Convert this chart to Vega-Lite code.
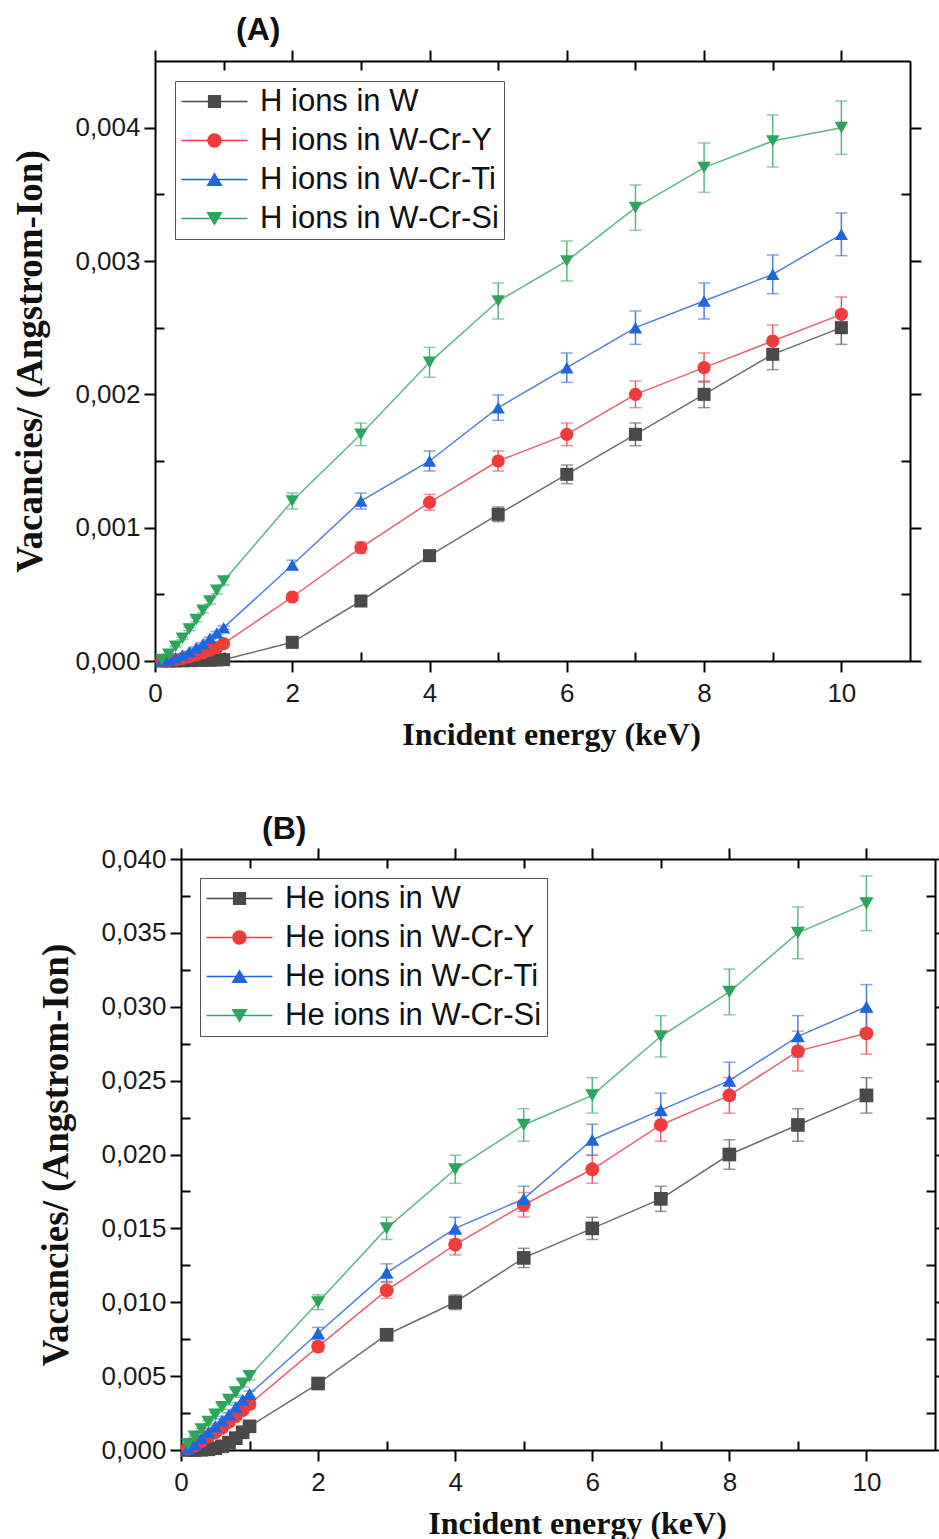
{
"$schema": "https://vega.github.io/schema/vega-lite/v6.json",
"padding": {"left": 10, "top": 14, "right": 0, "bottom": 0},
"spacing": 63,
"datasets": {
"A": [
{"e":0.1,"s":"H ions in W","v":0,"d":0},
{"e":0.2,"s":"H ions in W","v":0,"d":0},
{"e":0.3,"s":"H ions in W","v":0.000001,"d":0},
{"e":0.4,"s":"H ions in W","v":0.000002,"d":0.0000001},
{"e":0.5,"s":"H ions in W","v":0.000003,"d":0.00000015},
{"e":0.6,"s":"H ions in W","v":0.000004,"d":0.0000002},
{"e":0.7,"s":"H ions in W","v":0.000005,"d":0.00000025},
{"e":0.8,"s":"H ions in W","v":0.000006,"d":0.0000003},
{"e":0.9,"s":"H ions in W","v":0.000008,"d":0.0000004},
{"e":1,"s":"H ions in W","v":0.00001,"d":0.0000005},
{"e":2,"s":"H ions in W","v":0.00014,"d":0.000007},
{"e":3,"s":"H ions in W","v":0.00045,"d":0.0000225},
{"e":4,"s":"H ions in W","v":0.00079,"d":0.0000395},
{"e":5,"s":"H ions in W","v":0.0011,"d":0.000055},
{"e":6,"s":"H ions in W","v":0.0014,"d":0.00007},
{"e":7,"s":"H ions in W","v":0.0017,"d":0.000085},
{"e":8,"s":"H ions in W","v":0.002,"d":0.0001},
{"e":9,"s":"H ions in W","v":0.0023,"d":0.000115},
{"e":10,"s":"H ions in W","v":0.0025,"d":0.000125},
{"e":0.1,"s":"H ions in W-Cr-Y","v":0.000001,"d":0.00000005},
{"e":0.2,"s":"H ions in W-Cr-Y","v":0.000004,"d":0.0000002},
{"e":0.3,"s":"H ions in W-Cr-Y","v":0.00001,"d":0.0000005},
{"e":0.4,"s":"H ions in W-Cr-Y","v":0.00002,"d":0.000001},
{"e":0.5,"s":"H ions in W-Cr-Y","v":0.000032,"d":0.0000016},
{"e":0.6,"s":"H ions in W-Cr-Y","v":0.000046,"d":0.0000023},
{"e":0.7,"s":"H ions in W-Cr-Y","v":0.000062,"d":0.0000031},
{"e":0.8,"s":"H ions in W-Cr-Y","v":0.00008,"d":0.000004},
{"e":0.9,"s":"H ions in W-Cr-Y","v":0.0001,"d":0.000005},
{"e":1,"s":"H ions in W-Cr-Y","v":0.00013,"d":0.0000065},
{"e":2,"s":"H ions in W-Cr-Y","v":0.00048,"d":0.000024},
{"e":3,"s":"H ions in W-Cr-Y","v":0.00085,"d":0.0000425},
{"e":4,"s":"H ions in W-Cr-Y","v":0.00119,"d":0.0000595},
{"e":5,"s":"H ions in W-Cr-Y","v":0.0015,"d":0.000075},
{"e":6,"s":"H ions in W-Cr-Y","v":0.0017,"d":0.000085},
{"e":7,"s":"H ions in W-Cr-Y","v":0.002,"d":0.0001},
{"e":8,"s":"H ions in W-Cr-Y","v":0.0022,"d":0.00011},
{"e":9,"s":"H ions in W-Cr-Y","v":0.0024,"d":0.00012},
{"e":10,"s":"H ions in W-Cr-Y","v":0.0026,"d":0.00013},
{"e":0.1,"s":"H ions in W-Cr-Ti","v":0.000003,"d":0.00000015},
{"e":0.2,"s":"H ions in W-Cr-Ti","v":0.00001,"d":0.0000005},
{"e":0.3,"s":"H ions in W-Cr-Ti","v":0.000025,"d":0.0000013},
{"e":0.4,"s":"H ions in W-Cr-Ti","v":0.000045,"d":0.0000023},
{"e":0.5,"s":"H ions in W-Cr-Ti","v":0.00007,"d":0.0000035},
{"e":0.6,"s":"H ions in W-Cr-Ti","v":0.0001,"d":0.000005},
{"e":0.7,"s":"H ions in W-Cr-Ti","v":0.00013,"d":0.0000065},
{"e":0.8,"s":"H ions in W-Cr-Ti","v":0.00017,"d":0.0000085},
{"e":0.9,"s":"H ions in W-Cr-Ti","v":0.00021,"d":0.0000105},
{"e":1,"s":"H ions in W-Cr-Ti","v":0.00025,"d":0.0000125},
{"e":2,"s":"H ions in W-Cr-Ti","v":0.00072,"d":0.000036},
{"e":3,"s":"H ions in W-Cr-Ti","v":0.0012,"d":0.00006},
{"e":4,"s":"H ions in W-Cr-Ti","v":0.0015,"d":0.000075},
{"e":5,"s":"H ions in W-Cr-Ti","v":0.0019,"d":0.000095},
{"e":6,"s":"H ions in W-Cr-Ti","v":0.0022,"d":0.00011},
{"e":7,"s":"H ions in W-Cr-Ti","v":0.0025,"d":0.000125},
{"e":8,"s":"H ions in W-Cr-Ti","v":0.0027,"d":0.000135},
{"e":9,"s":"H ions in W-Cr-Ti","v":0.0029,"d":0.000145},
{"e":10,"s":"H ions in W-Cr-Ti","v":0.0032,"d":0.00016},
{"e":0.1,"s":"H ions in W-Cr-Si","v":0.00001,"d":0.0000005},
{"e":0.2,"s":"H ions in W-Cr-Si","v":0.00005,"d":0.0000025},
{"e":0.3,"s":"H ions in W-Cr-Si","v":0.00011,"d":0.0000055},
{"e":0.4,"s":"H ions in W-Cr-Si","v":0.00017,"d":0.0000085},
{"e":0.5,"s":"H ions in W-Cr-Si","v":0.00024,"d":0.000012},
{"e":0.6,"s":"H ions in W-Cr-Si","v":0.00031,"d":0.0000155},
{"e":0.7,"s":"H ions in W-Cr-Si","v":0.00038,"d":0.000019},
{"e":0.8,"s":"H ions in W-Cr-Si","v":0.00045,"d":0.0000225},
{"e":0.9,"s":"H ions in W-Cr-Si","v":0.00053,"d":0.0000265},
{"e":1,"s":"H ions in W-Cr-Si","v":0.0006,"d":0.00003},
{"e":2,"s":"H ions in W-Cr-Si","v":0.0012,"d":0.00006},
{"e":3,"s":"H ions in W-Cr-Si","v":0.0017,"d":0.000085},
{"e":4,"s":"H ions in W-Cr-Si","v":0.00224,"d":0.000112},
{"e":5,"s":"H ions in W-Cr-Si","v":0.0027,"d":0.000135},
{"e":6,"s":"H ions in W-Cr-Si","v":0.003,"d":0.00015},
{"e":7,"s":"H ions in W-Cr-Si","v":0.0034,"d":0.00017},
{"e":8,"s":"H ions in W-Cr-Si","v":0.0037,"d":0.000185},
{"e":9,"s":"H ions in W-Cr-Si","v":0.0039,"d":0.000195},
{"e":10,"s":"H ions in W-Cr-Si","v":0.004,"d":0.0002}
],
"B": [
{"e":0.1,"s":"He ions in W","v":0,"d":0},
{"e":0.2,"s":"He ions in W","v":0,"d":0},
{"e":0.3,"s":"He ions in W","v":0.00002,"d":0.000001},
{"e":0.4,"s":"He ions in W","v":0.00005,"d":0.0000025},
{"e":0.5,"s":"He ions in W","v":0.00012,"d":0.000006},
{"e":0.6,"s":"He ions in W","v":0.00025,"d":0.0000125},
{"e":0.7,"s":"He ions in W","v":0.0005,"d":0.000025},
{"e":0.8,"s":"He ions in W","v":0.0008,"d":0.00004},
{"e":0.9,"s":"He ions in W","v":0.0012,"d":0.00006},
{"e":1,"s":"He ions in W","v":0.0016,"d":0.00008},
{"e":2,"s":"He ions in W","v":0.0045,"d":0.000225},
{"e":3,"s":"He ions in W","v":0.0078,"d":0.00039},
{"e":4,"s":"He ions in W","v":0.01,"d":0.0005},
{"e":5,"s":"He ions in W","v":0.013,"d":0.00065},
{"e":6,"s":"He ions in W","v":0.015,"d":0.00075},
{"e":7,"s":"He ions in W","v":0.017,"d":0.00085},
{"e":8,"s":"He ions in W","v":0.02,"d":0.001},
{"e":9,"s":"He ions in W","v":0.022,"d":0.0011},
{"e":10,"s":"He ions in W","v":0.024,"d":0.0012},
{"e":0.1,"s":"He ions in W-Cr-Y","v":0.0001,"d":0.000005},
{"e":0.2,"s":"He ions in W-Cr-Y","v":0.0003,"d":0.000015},
{"e":0.3,"s":"He ions in W-Cr-Y","v":0.0006,"d":0.00003},
{"e":0.4,"s":"He ions in W-Cr-Y","v":0.0009,"d":0.000045},
{"e":0.5,"s":"He ions in W-Cr-Y","v":0.0012,"d":0.00006},
{"e":0.6,"s":"He ions in W-Cr-Y","v":0.0015,"d":0.000075},
{"e":0.7,"s":"He ions in W-Cr-Y","v":0.0019,"d":0.000095},
{"e":0.8,"s":"He ions in W-Cr-Y","v":0.0023,"d":0.000115},
{"e":0.9,"s":"He ions in W-Cr-Y","v":0.0027,"d":0.000135},
{"e":1,"s":"He ions in W-Cr-Y","v":0.0031,"d":0.000155},
{"e":2,"s":"He ions in W-Cr-Y","v":0.007,"d":0.00035},
{"e":3,"s":"He ions in W-Cr-Y","v":0.0108,"d":0.00054},
{"e":4,"s":"He ions in W-Cr-Y","v":0.0139,"d":0.000695},
{"e":5,"s":"He ions in W-Cr-Y","v":0.0166,"d":0.00083},
{"e":6,"s":"He ions in W-Cr-Y","v":0.019,"d":0.00095},
{"e":7,"s":"He ions in W-Cr-Y","v":0.022,"d":0.0011},
{"e":8,"s":"He ions in W-Cr-Y","v":0.024,"d":0.0012},
{"e":9,"s":"He ions in W-Cr-Y","v":0.027,"d":0.00135},
{"e":10,"s":"He ions in W-Cr-Y","v":0.0282,"d":0.00141},
{"e":0.1,"s":"He ions in W-Cr-Ti","v":0.0001,"d":0.000005},
{"e":0.2,"s":"He ions in W-Cr-Ti","v":0.0004,"d":0.00002},
{"e":0.3,"s":"He ions in W-Cr-Ti","v":0.0008,"d":0.00004},
{"e":0.4,"s":"He ions in W-Cr-Ti","v":0.0012,"d":0.00006},
{"e":0.5,"s":"He ions in W-Cr-Ti","v":0.0016,"d":0.00008},
{"e":0.6,"s":"He ions in W-Cr-Ti","v":0.002,"d":0.0001},
{"e":0.7,"s":"He ions in W-Cr-Ti","v":0.0024,"d":0.00012},
{"e":0.8,"s":"He ions in W-Cr-Ti","v":0.0029,"d":0.000145},
{"e":0.9,"s":"He ions in W-Cr-Ti","v":0.0034,"d":0.00017},
{"e":1,"s":"He ions in W-Cr-Ti","v":0.0038,"d":0.00019},
{"e":2,"s":"He ions in W-Cr-Ti","v":0.0079,"d":0.000395},
{"e":3,"s":"He ions in W-Cr-Ti","v":0.012,"d":0.0006},
{"e":4,"s":"He ions in W-Cr-Ti","v":0.015,"d":0.00075},
{"e":5,"s":"He ions in W-Cr-Ti","v":0.017,"d":0.00085},
{"e":6,"s":"He ions in W-Cr-Ti","v":0.021,"d":0.00105},
{"e":7,"s":"He ions in W-Cr-Ti","v":0.023,"d":0.00115},
{"e":8,"s":"He ions in W-Cr-Ti","v":0.025,"d":0.00125},
{"e":9,"s":"He ions in W-Cr-Ti","v":0.028,"d":0.0014},
{"e":10,"s":"He ions in W-Cr-Ti","v":0.03,"d":0.0015},
{"e":0.1,"s":"He ions in W-Cr-Si","v":0.0004,"d":0.00002},
{"e":0.2,"s":"He ions in W-Cr-Si","v":0.0009,"d":0.000045},
{"e":0.3,"s":"He ions in W-Cr-Si","v":0.0014,"d":0.00007},
{"e":0.4,"s":"He ions in W-Cr-Si","v":0.0019,"d":0.000095},
{"e":0.5,"s":"He ions in W-Cr-Si","v":0.0024,"d":0.00012},
{"e":0.6,"s":"He ions in W-Cr-Si","v":0.0029,"d":0.000145},
{"e":0.7,"s":"He ions in W-Cr-Si","v":0.0034,"d":0.00017},
{"e":0.8,"s":"He ions in W-Cr-Si","v":0.0039,"d":0.000195},
{"e":0.9,"s":"He ions in W-Cr-Si","v":0.0045,"d":0.000225},
{"e":1,"s":"He ions in W-Cr-Si","v":0.005,"d":0.00025},
{"e":2,"s":"He ions in W-Cr-Si","v":0.01,"d":0.0005},
{"e":3,"s":"He ions in W-Cr-Si","v":0.015,"d":0.00075},
{"e":4,"s":"He ions in W-Cr-Si","v":0.019,"d":0.00095},
{"e":5,"s":"He ions in W-Cr-Si","v":0.022,"d":0.0011},
{"e":6,"s":"He ions in W-Cr-Si","v":0.024,"d":0.0012},
{"e":7,"s":"He ions in W-Cr-Si","v":0.028,"d":0.0014},
{"e":8,"s":"He ions in W-Cr-Si","v":0.031,"d":0.00155},
{"e":9,"s":"He ions in W-Cr-Si","v":0.035,"d":0.00175},
{"e":10,"s":"He ions in W-Cr-Si","v":0.037,"d":0.00185}
]
},
"vconcat": [
{
"spacing": 0,
"hconcat": [
{"width": 1, "height": 1, "data": {"values": []}, "mark": "point"},
{
"width": 755, "height": 600,
"title": {"text": "(A)", "anchor": "start", "frame": "group", "dx": 81, "offset": 2, "font": "Liberation Sans", "fontSize": 32, "fontWeight": "bold", "color": "#111111"},
"data": {"name": "A"},
"layer": [
{"mark": {"type": "line", "strokeWidth": 1.5},
 "encoding": {
  "x": {"field": "e", "type": "quantitative", "scale": {"domain": [0, 11], "nice": false, "zero": false}, "axis": {"orient": "bottom", "values": [0,2,4,6,8,10], "tickSize": 11, "labelPadding": 8, "title": "Incident energy (keV)", "titleFontSize": 32, "titlePadding": 13, "titleX": 396}},
  "y": {"field": "v", "type": "quantitative", "scale": {"domain": [0, 0.0045], "nice": false}, "axis": {"orient": "left", "values": [0,0.001,0.002,0.003,0.004], "tickSize": 11, "labelPadding": 4, "labelExpr": "replace(format(datum.value,'.3f'),'.',',')", "title": "Vacancies/ (Angstrom-Ion)", "titleFontSize": 37, "titlePadding": 25}},
  "stroke": {"field": "s", "type": "nominal", "scale": {"domain": ["H ions in W","H ions in W-Cr-Y","H ions in W-Cr-Ti","H ions in W-Cr-Si"], "range": ["#6e6e6e","#e9606b","#4f7fd6","#5db682"]}, "legend": null}
 }},
{"mark": {"type": "errorbar", "ticks": true, "size": 12, "thickness": 1.5},
 "encoding": {
  "x": {"field": "e", "type": "quantitative", "scale": {"domain": [0, 11], "nice": false, "zero": false}, "axis": {"orient": "top", "values": [0,2,4,6,8,10], "tickSize": 11, "labels": false, "title": null}},
  "y": {"field": "v", "type": "quantitative", "scale": {"domain": [0, 0.0045], "nice": false}, "axis": {"orient": "right", "values": [0,0.001,0.002,0.003,0.004], "tickSize": 11, "labels": false, "title": null}},
  "yError": {"field": "d"},
  "color": {"field": "s", "type": "nominal", "scale": {"domain": ["H ions in W","H ions in W-Cr-Y","H ions in W-Cr-Ti","H ions in W-Cr-Si"], "range": ["#6e6e6e","#e9606b","#4f7fd6","#5db682"]}, "legend": null}
 }},
{"mark": {"type": "point", "filled": true, "opacity": 1},
 "encoding": {
  "x": {"field": "e", "type": "quantitative", "scale": {"domain": [0, 11], "nice": false, "zero": false}, "axis": {"orient": "bottom", "values": [1,3,5,7,9], "tickSize": -9, "labels": false, "domain": false, "title": null}},
  "y": {"field": "v", "type": "quantitative", "scale": {"domain": [0, 0.0045], "nice": false}, "axis": {"orient": "left", "values": [0.0005,0.0015,0.0025,0.0035], "tickSize": -9, "labels": false, "domain": false, "title": null}},
  "color": {"field": "s", "type": "nominal", "scale": {"domain": ["H ions in W","H ions in W-Cr-Y","H ions in W-Cr-Ti","H ions in W-Cr-Si"], "range": ["#4a4a4a","#f23c3c","#1f66dd","#2ea55e"]}, "legend": null},
  "shape": {"field": "s", "type": "nominal", "scale": {"domain": ["H ions in W","H ions in W-Cr-Y","H ions in W-Cr-Ti","H ions in W-Cr-Si"], "range": ["square","circle","triangle-up","triangle-down"]}, "legend": null},
  "size": {"field": "s", "type": "ordinal", "scale": {"domain": ["H ions in W","H ions in W-Cr-Y","H ions in W-Cr-Ti","H ions in W-Cr-Si"], "range": [170,200,290,290]}, "legend": null}
 }},
{"mark": {"type": "point", "opacity": 0},
 "encoding": {
  "x": {"field": "e", "type": "quantitative", "scale": {"domain": [0, 11], "nice": false, "zero": false}, "axis": {"orient": "top", "values": [1,3,5,7,9], "tickSize": -9, "labels": false, "domain": false, "title": null}},
  "y": {"field": "v", "type": "quantitative", "scale": {"domain": [0, 0.0045], "nice": false}, "axis": {"orient": "right", "values": [0.0005,0.0015,0.0025,0.0035], "tickSize": -9, "labels": false, "domain": false, "title": null}}
 }},
{"data": {"values": []},
 "mark": {"type": "point", "filled": true, "opacity": 1},
 "encoding": {
  "color": {"field": "s", "type": "nominal", "scale": {"domain": ["H ions in W","H ions in W-Cr-Y","H ions in W-Cr-Ti","H ions in W-Cr-Si"], "range": ["#4a4a4a","#f23c3c","#1f66dd","#2ea55e"]},
   "legend": {"title": null, "orient": "top-left", "offset": 20, "padding": 5, "strokeColor": "#555555", "fillColor": "white", "labelFont": "Liberation Sans", "labelFontSize": 31, "labelColor": "#111111", "labelLimit": 600, "symbolSize": 144, "symbolOffset": 19, "labelOffset": 30, "rowPadding": 7}},
  "shape": {"field": "s", "type": "nominal", "scale": {"domain": ["H ions in W","H ions in W-Cr-Y","H ions in W-Cr-Ti","H ions in W-Cr-Si"], "range": ["M-5.5,-0.12H5.5V0.12H-5.5Z M-1.1,-1.1H1.1V1.1H-1.1Z", "M-5.5,-0.12H5.5V0.12H-5.5Z M1.2,0A1.2,1.2,0,1,1,-1.2,0A1.2,1.2,0,1,1,1.2,0Z", "M-5.5,-0.12H5.5V0.12H-5.5Z M0,-1.2L1.35,1.1L-1.35,1.1Z", "M-5.5,-0.12H5.5V0.12H-5.5Z M-1.35,-1.1L1.35,-1.1L0,1.2Z"]}}
 }}
],
"resolve": {"scale": {"color": "independent", "shape": "independent"}, "axis": {"x": "independent", "y": "independent"}}
}
]
},
{
"spacing": 0,
"hconcat": [
{"width": 27, "height": 1, "data": {"values": []}, "mark": "point"},
{
"width": 754, "height": 591,
"title": {"text": "(B)", "anchor": "start", "frame": "group", "dx": 81, "offset": 0, "font": "Liberation Sans", "fontSize": 32, "fontWeight": "bold", "color": "#111111"},
"data": {"name": "B"},
"layer": [
{"mark": {"type": "line", "strokeWidth": 1.5},
 "encoding": {
  "x": {"field": "e", "type": "quantitative", "scale": {"domain": [0, 11], "nice": false, "zero": false}, "axis": {"orient": "bottom", "values": [0,2,4,6,8,10], "tickSize": 11, "labelPadding": 8, "title": "Incident energy (keV)", "titleFontSize": 32, "titlePadding": 13, "titleX": 396}},
  "y": {"field": "v", "type": "quantitative", "scale": {"domain": [0, 0.04], "nice": false}, "axis": {"orient": "left", "values": [0,0.005,0.01,0.015,0.02,0.025,0.03,0.035,0.04], "tickSize": 11, "labelPadding": 4, "labelExpr": "replace(format(datum.value,'.3f'),'.',',')", "title": "Vacancies/ (Angstrom-Ion)", "titleFontSize": 37, "titlePadding": 25}},
  "stroke": {"field": "s", "type": "nominal", "scale": {"domain": ["He ions in W","He ions in W-Cr-Y","He ions in W-Cr-Ti","He ions in W-Cr-Si"], "range": ["#6e6e6e","#e9606b","#4f7fd6","#5db682"]}, "legend": null}
 }},
{"mark": {"type": "errorbar", "ticks": true, "size": 12, "thickness": 1.5},
 "encoding": {
  "x": {"field": "e", "type": "quantitative", "scale": {"domain": [0, 11], "nice": false, "zero": false}, "axis": {"orient": "top", "values": [0,2,4,6,8,10], "tickSize": 11, "labels": false, "title": null}},
  "y": {"field": "v", "type": "quantitative", "scale": {"domain": [0, 0.04], "nice": false}, "axis": {"orient": "right", "values": [0,0.005,0.01,0.015,0.02,0.025,0.03,0.035,0.04], "tickSize": 11, "labels": false, "title": null}},
  "yError": {"field": "d"},
  "color": {"field": "s", "type": "nominal", "scale": {"domain": ["He ions in W","He ions in W-Cr-Y","He ions in W-Cr-Ti","He ions in W-Cr-Si"], "range": ["#6e6e6e","#e9606b","#4f7fd6","#5db682"]}, "legend": null}
 }},
{"mark": {"type": "point", "filled": true, "opacity": 1},
 "encoding": {
  "x": {"field": "e", "type": "quantitative", "scale": {"domain": [0, 11], "nice": false, "zero": false}, "axis": {"orient": "bottom", "values": [1,3,5,7,9], "tickSize": -9, "labels": false, "domain": false, "title": null}},
  "y": {"field": "v", "type": "quantitative", "scale": {"domain": [0, 0.04], "nice": false}, "axis": {"orient": "left", "values": [0.0025,0.0075,0.0125,0.0175,0.0225,0.0275,0.0325,0.0375], "tickSize": -9, "labels": false, "domain": false, "title": null}},
  "color": {"field": "s", "type": "nominal", "scale": {"domain": ["He ions in W","He ions in W-Cr-Y","He ions in W-Cr-Ti","He ions in W-Cr-Si"], "range": ["#4a4a4a","#f23c3c","#1f66dd","#2ea55e"]}, "legend": null},
  "shape": {"field": "s", "type": "nominal", "scale": {"domain": ["He ions in W","He ions in W-Cr-Y","He ions in W-Cr-Ti","He ions in W-Cr-Si"], "range": ["square","circle","triangle-up","triangle-down"]}, "legend": null},
  "size": {"field": "s", "type": "ordinal", "scale": {"domain": ["He ions in W","He ions in W-Cr-Y","He ions in W-Cr-Ti","He ions in W-Cr-Si"], "range": [170,200,290,290]}, "legend": null}
 }},
{"mark": {"type": "point", "opacity": 0},
 "encoding": {
  "x": {"field": "e", "type": "quantitative", "scale": {"domain": [0, 11], "nice": false, "zero": false}, "axis": {"orient": "top", "values": [1,3,5,7,9], "tickSize": -9, "labels": false, "domain": false, "title": null}},
  "y": {"field": "v", "type": "quantitative", "scale": {"domain": [0, 0.04], "nice": false}, "axis": {"orient": "right", "values": [0.0025,0.0075,0.0125,0.0175,0.0225,0.0275,0.0325,0.0375], "tickSize": -9, "labels": false, "domain": false, "title": null}}
 }},
{"data": {"values": []},
 "mark": {"type": "point", "filled": true, "opacity": 1},
 "encoding": {
  "color": {"field": "s", "type": "nominal", "scale": {"domain": ["He ions in W","He ions in W-Cr-Y","He ions in W-Cr-Ti","He ions in W-Cr-Si"], "range": ["#4a4a4a","#f23c3c","#1f66dd","#2ea55e"]},
   "legend": {"title": null, "orient": "top-left", "offset": 19, "padding": 5, "strokeColor": "#555555", "fillColor": "white", "labelFont": "Liberation Sans", "labelFontSize": 31, "labelColor": "#111111", "labelLimit": 600, "symbolSize": 144, "symbolOffset": 19, "labelOffset": 30, "rowPadding": 7}},
  "shape": {"field": "s", "type": "nominal", "scale": {"domain": ["He ions in W","He ions in W-Cr-Y","He ions in W-Cr-Ti","He ions in W-Cr-Si"], "range": ["M-5.5,-0.12H5.5V0.12H-5.5Z M-1.1,-1.1H1.1V1.1H-1.1Z", "M-5.5,-0.12H5.5V0.12H-5.5Z M1.2,0A1.2,1.2,0,1,1,-1.2,0A1.2,1.2,0,1,1,1.2,0Z", "M-5.5,-0.12H5.5V0.12H-5.5Z M0,-1.2L1.35,1.1L-1.35,1.1Z", "M-5.5,-0.12H5.5V0.12H-5.5Z M-1.35,-1.1L1.35,-1.1L0,1.2Z"]}}
 }}
],
"resolve": {"scale": {"color": "independent", "shape": "independent"}, "axis": {"x": "independent", "y": "independent"}}
}
]
}
],
"config": {
 "view": {"stroke": null},
 "font": "Liberation Sans",
 "axis": {"grid": false, "domainColor": "#000000", "domainWidth": 2, "tickColor": "#000000", "tickWidth": 2, "labelFont": "Liberation Sans", "labelFontSize": 26, "labelColor": "#1a1a1a", "titleFont": "Liberation Serif", "titleFontWeight": "bold", "titleColor": "#111111", "labelFlush": false, "labelOverlap": false}
}
}
